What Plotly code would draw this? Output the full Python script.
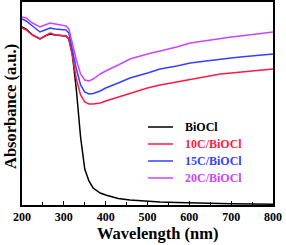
import plotly.graph_objects as go

wavelength = [200, 210, 225, 243, 255, 267, 280, 295, 305, 312, 320, 330, 340, 350, 360, 370,
              387, 400, 430, 458, 500, 530, 570, 602, 640, 674, 700, 722, 760, 800]

biocl = [1.78, 1.76, 1.70, 1.66, 1.69, 1.71, 1.70, 1.69, 1.69, 1.66, 1.52, 1.15, 0.68, 0.36, 0.24, 0.17,
         0.12, 0.10, 0.065, 0.05, 0.035, 0.03, 0.025, 0.02, 0.018, 0.015, 0.013, 0.012, 0.01, 0.008]
c10 = [1.77, 1.75, 1.70, 1.66, 1.69, 1.72, 1.70, 1.69, 1.69, 1.66, 1.50, 1.26, 1.10, 1.03, 1.01, 1.01,
       1.02, 1.04, 1.08, 1.12, 1.17, 1.20, 1.23, 1.26, 1.29, 1.31, 1.32, 1.33, 1.345, 1.36]
c15 = [1.86, 1.84, 1.79, 1.73, 1.75, 1.77, 1.76, 1.755, 1.75, 1.72, 1.56, 1.36, 1.20, 1.13, 1.11, 1.115,
       1.14, 1.17, 1.22, 1.27, 1.32, 1.36, 1.39, 1.42, 1.44, 1.46, 1.47, 1.48, 1.495, 1.51]
c20 = [1.88, 1.87, 1.82, 1.78, 1.80, 1.82, 1.81, 1.80, 1.79, 1.76, 1.62, 1.45, 1.31, 1.25, 1.24, 1.26,
       1.31, 1.34, 1.40, 1.46, 1.51, 1.54, 1.58, 1.62, 1.645, 1.67, 1.68, 1.69, 1.71, 1.73]

names = ["BiOCl", "10C/BiOCl", "15C/BiOCl", "20C/BiOCl"]
colors = ["#000000", "#ff1a45", "#3540ff", "#cc44ff"]
series = [biocl, c10, c15, c20]
x_ticks = [200, 300, 400, 500, 600, 700, 800]

font_family = "Liberation Serif, Times New Roman, serif"

# plot area in pixels: left 22, right 273, top 2, bottom 205
W, H = 286, 245
L, R, T, B = 22, 13, 2, 40
pw, ph = W - L - R, H - T - B

def px_x(x):
    return (x - L) / pw

def px_y(y):
    return (H - B - y) / ph

fig = go.Figure()
for name, col, ys in zip(names, colors, series):
    fig.add_trace(go.Scatter(x=wavelength, y=ys, mode="lines", name=name,
                             line=dict(color=col, width=1.5), showlegend=False))

shapes = []
annotations = [
    dict(text="<b>Wavelength (nm)</b>", xref="paper", yref="paper", x=px_x(157), y=px_y(233),
         xanchor="center", yanchor="middle", showarrow=False,
         font=dict(family=font_family, size=16.5, color="black")),
    dict(text="<b>Absorbance (a.u.)</b>", xref="paper", yref="paper", x=px_x(11), y=px_y(107),
         xanchor="center", yanchor="middle", showarrow=False, textangle=-90,
         font=dict(family=font_family, size=16.5, color="black")),
]
legend_rows = [127, 144, 161, 178]
for name, col, yy in zip(names, colors, legend_rows):
    shapes.append(dict(type="line", xref="paper", yref="paper",
                       x0=px_x(148), x1=px_x(173), y0=px_y(yy), y1=px_y(yy),
                       line=dict(color=col, width=1.5)))
    annotations.append(dict(text=f"<b>{name}</b>", xref="paper", yref="paper",
                            x=px_x(183), y=px_y(yy), xanchor="left", yanchor="middle",
                            showarrow=False,
                            font=dict(family=font_family, size=12, color=col)))

fig.update_layout(
    width=W, height=H,
    margin=dict(l=L, r=R, t=T, b=B, autoexpand=False),
    paper_bgcolor="white", plot_bgcolor="white",
    font=dict(family=font_family, size=11, color="black"),
    showlegend=False,
    xaxis=dict(range=[200, 800], tickvals=x_ticks, ticks="inside", ticklen=4,
               tickwidth=1, tickcolor="black",
               minor=dict(dtick=50, tick0=200, ticks="inside", ticklen=3, tickcolor="black"),
               showline=True, linecolor="black", linewidth=1.5, mirror=True,
               showgrid=False, zeroline=False,
               tickfont=dict(family=font_family, size=12, color="black", weight="bold")),
    yaxis=dict(range=[0, 2.03], showticklabels=False, ticks="",
               showline=True, linecolor="black", linewidth=1.5, mirror=True,
               showgrid=False, zeroline=False),
    shapes=shapes,
    annotations=annotations,
)

fig.write_html("out.html", config={"displayModeBar": False},
               post_script="document.body.style.margin='0';document.body.style.overflow='hidden';")
